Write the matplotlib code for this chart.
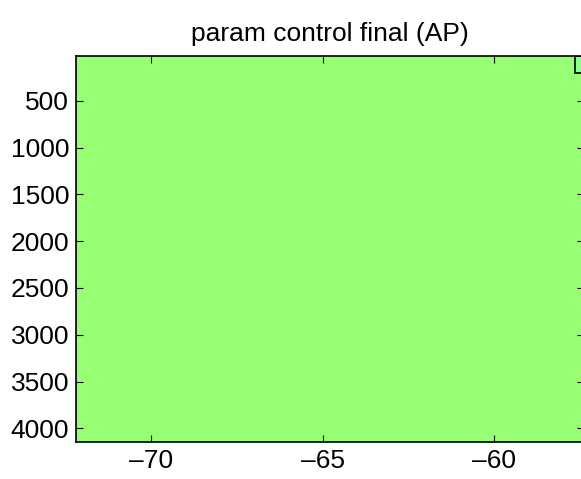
import numpy as np
import matplotlib.pyplot as plt
from matplotlib.colors import ListedColormap
from matplotlib.patches import Rectangle

plt.rcParams['font.family'] = ['Liberation Sans', 'DejaVu Sans']

# grid edges (x: parameter, y: depth/index) and cell values
x_edges = [-72.2, -57.65, -57.0]
y_edges = [22, 200, 4146]
values = np.array([[0, 1],
                   [0, 0]])

x_ticks = [-70, -65, -60]
y_ticks = [500, 1000, 1500, 2000, 2500, 3000, 3500, 4000]

cmap = ListedColormap(['#96ff73', '#8cff8f'])

fig = plt.figure(figsize=(5.81, 4.79), dpi=100)
ax = fig.add_axes([0.1308, 0.0772, 0.8742, 0.8059])

ax.pcolormesh(x_edges, y_edges, values, cmap=cmap, vmin=0, vmax=1,
              shading='flat', edgecolors='none')

# outline the cells above the base level
for i in range(values.shape[0]):
    for j in range(values.shape[1]):
        if values[i, j] > 0:
            ax.add_patch(Rectangle((x_edges[j], y_edges[i]),
                                   x_edges[j + 1] - x_edges[j],
                                   y_edges[i + 1] - y_edges[i],
                                   fill=False, edgecolor='black', lw=1.2))

ax.set_xlim(-72.2, -57.38)
ax.set_ylim(4146, 22)
ax.set_xticks(x_ticks)
ax.set_yticks(y_ticks)
ax.set_xticklabels([f'\u2013{abs(t)}' for t in x_ticks])
ax.tick_params(direction='in', length=5, width=0.8, top=True, right=True,
               labelsize=19, pad=5)
for s in ax.spines.values():
    s.set_linewidth(1.2)

ax.set_title('param control final (AP)', fontsize=19, pad=11)

fig.savefig('out.png', dpi=100)
